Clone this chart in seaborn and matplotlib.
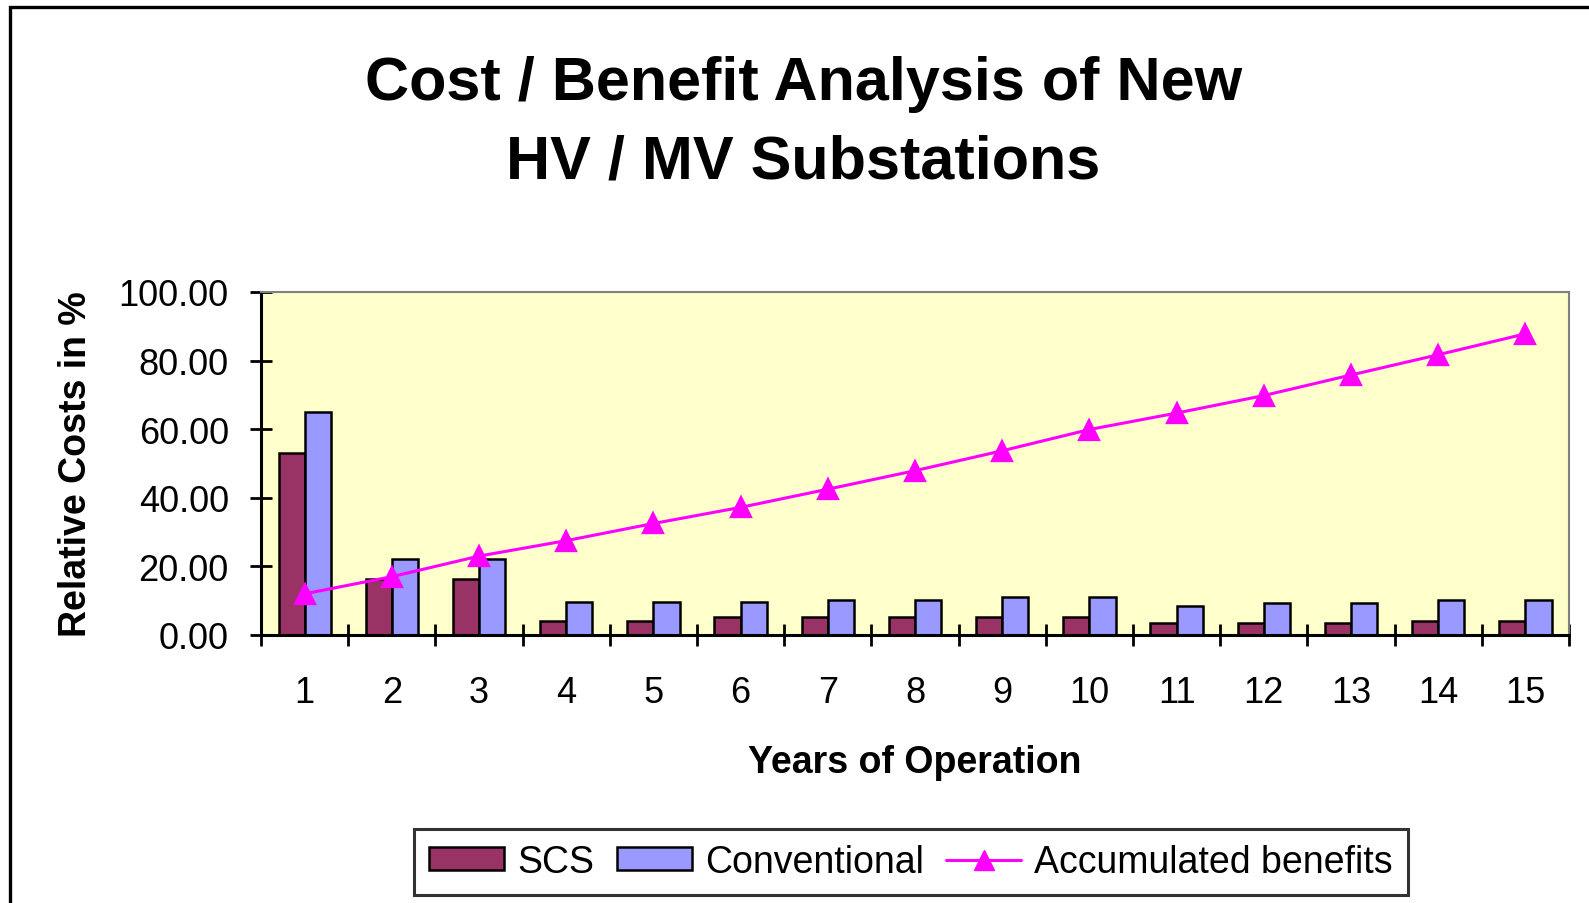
import pandas as pd
import matplotlib
matplotlib.use("Agg")
import matplotlib.pyplot as plt
import seaborn as sns
from matplotlib.patches import Patch, Rectangle
from matplotlib.lines import Line2D
from matplotlib.ticker import FixedLocator, FormatStrFormatter

# values
years = list(range(1, 16))
scs = [53.1, 16.3, 16.2, 4.2, 4.2, 5.1, 5.1, 5.1, 5.1, 5.1, 3.4, 3.4, 3.4, 4.2, 4.2]
conventional = [65.0, 22.1, 22.1, 9.5, 9.5, 9.5, 10.2, 10.2, 11.1, 11.1, 8.5, 9.3, 9.3, 10.1, 10.1]
benefits = [12.0, 17.0, 23.0, 27.5, 32.5, 37.2, 42.5, 47.9, 53.7, 59.9, 64.7, 69.8, 75.8, 81.7, 87.8]

series_names = ["SCS", "Conventional"]
colors = {"SCS": "#993366", "Conventional": "#9999FF"}
line_color = "#FF00FF"

bars = pd.DataFrame({
    "year": years * 2,
    "series": ["SCS"] * len(years) + ["Conventional"] * len(years),
    "value": scs + conventional,
})
line = pd.DataFrame({"year": years, "value": benefits})

sns.set_style("white")
plt.rcParams["font.family"] = ["Liberation Sans", "DejaVu Sans"]
plt.rcParams.update({"text.color": "black", "axes.labelcolor": "black",
                     "xtick.color": "black", "ytick.color": "black"})

fig = plt.figure(figsize=(15.89, 9.04), dpi=100)
ax = fig.add_axes([0.1643, 0.2965, 0.8231, 0.3794])
ax.set_facecolor("#FFFFCC")

sns.barplot(data=bars, x="year", y="value", hue="series", hue_order=series_names,
            palette=colors, saturation=1, width=0.6, edgecolor="black",
            linewidth=1.8, errorbar=None, legend=False, ax=ax)
sns.pointplot(data=line, x="year", y="value", color=line_color, marker="^",
              markersize=15, linewidth=2.2, errorbar=None, ax=ax, zorder=5)

ax.set_ylim(0, 100)
ax.set_xlim(-0.5, 14.5)
ax.set_yticks([0, 20, 40, 60, 80, 100])
ax.yaxis.set_major_formatter(FormatStrFormatter("%.2f"))
ax.xaxis.set_minor_locator(FixedLocator([i - 0.5 for i in range(16)]))
ax.tick_params(axis="y", which="major", direction="inout", length=16.5, width=2,
               color="black", pad=15, labelsize=26, left=True)
ax.tick_params(axis="x", which="major", length=0, pad=29, labelsize=26)
ax.tick_params(axis="x", which="minor", direction="inout", length=16.5, width=2,
               color="black", bottom=True)
ax.grid(False)

for side in ["left", "bottom"]:
    ax.spines[side].set_color("black")
    ax.spines[side].set_linewidth(2.2)
for side in ["top", "right"]:
    ax.spines[side].set_visible(True)
    ax.spines[side].set_color("#808080")
    ax.spines[side].set_linewidth(1.5)

ax.set_xlabel("Years of Operation", fontsize=27, fontweight="bold", va="center")
ax.xaxis.set_label_coords(0.5, -0.37)
ax.set_ylabel("Relative Costs in %", fontsize=27, fontweight="bold", va="center")
ax.yaxis.set_label_coords(-0.1414, 0.5)

fig.text(0.5054, 0.863, "Cost / Benefit Analysis of New\nHV / MV Substations",
         ha="center", va="center", fontsize=44, fontweight="bold", linespacing=1.48)

handles = [
    Patch(facecolor=colors["SCS"], edgecolor="black", linewidth=1.8),
    Patch(facecolor=colors["Conventional"], edgecolor="black", linewidth=1.8),
    Line2D([0], [0], color=line_color, linewidth=2.2, marker="^", markersize=15),
]
leg = fig.legend(handles, ["SCS", "Conventional", "Accumulated benefits"],
                 loc="center", bbox_to_anchor=(0.5733, 0.0454), ncol=3,
                 fontsize=27, frameon=True, fancybox=False, edgecolor="black",
                 handlelength=2.0, handleheight=0.56, handletextpad=0.35,
                 columnspacing=0.6, borderpad=0.4)
leg.get_frame().set_linewidth(2.2)

fig.patches.append(Rectangle((0.0062, -0.2), 1.2, 1.1915, transform=fig.transFigure,
                             fill=False, edgecolor="black", linewidth=2.4,
                             clip_on=False))

fig.savefig("out.png", dpi=100)
